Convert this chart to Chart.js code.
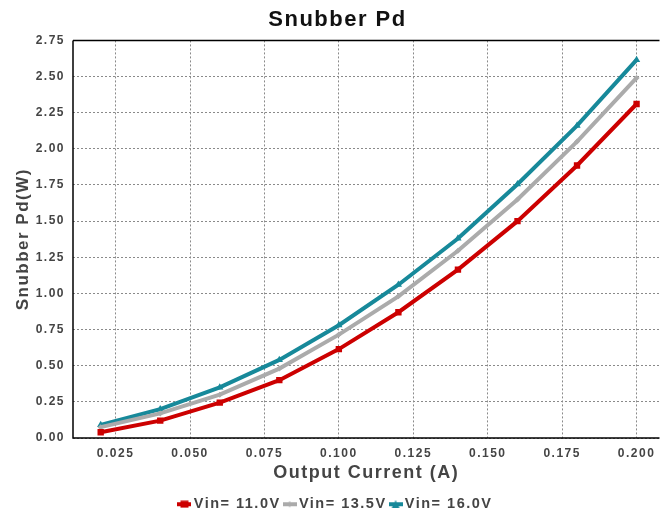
<!DOCTYPE html>
<html><head><meta charset="utf-8">
<script src="https://cdn.jsdelivr.net/npm/chart.js@4.4.0/dist/chart.umd.min.js"></script>
<style>html,body{margin:0;padding:0;background:#fff}#wrap{width:664px;height:513px}</style>
</head><body><div id="wrap"><canvas id="c" width="664" height="513"></canvas></div>
<script>
const current = [0.02,0.04,0.06,0.08,0.10,0.12,0.14,0.16,0.18,0.20];
const vin110 = [0.04,0.12,0.245,0.40,0.615,0.87,1.165,1.50,1.885,2.31];
const vin135 = [0.075,0.17,0.30,0.48,0.715,0.98,1.295,1.65,2.05,2.49];
const vin160 = [0.09,0.20,0.35,0.54,0.78,1.06,1.38,1.755,2.16,2.615];
const seriesNames = ['Vin= 11.0V','Vin= 13.5V','Vin= 16.0V'];
const colors = ['#CC0000','#ABABAB','#17899A'];
const markers = ['rect','rectRot','triangle'];
const FONT = 'Liberation Sans, Arial, sans-serif';

document.getElementById('c').getContext('2d').letterSpacing = '1.5px';

function legendIcon(color, style){
  const c = document.createElement('canvas'); c.width=14; c.height=8;
  const g = c.getContext('2d');
  g.strokeStyle=color; g.lineWidth=4; g.beginPath(); g.moveTo(0,4); g.lineTo(14,4); g.stroke();
  g.fillStyle=color;
  if(style==='rect'){ g.fillRect(3,0.5,8,7); }
  else if(style==='triangle'){ g.beginPath(); g.moveTo(7,0); g.lineTo(11,8); g.lineTo(3,8); g.closePath(); g.fill(); }
  else { g.beginPath(); g.moveTo(7,1); g.lineTo(10,4); g.lineTo(7,7); g.lineTo(4,4); g.closePath(); g.fill(); }
  return c;
}

const datasets = [vin110, vin135, vin160].map((arr,i)=>({
  label: seriesNames[i],
  data: current.map((x,j)=>({x:x,y:arr[j]})),
  borderColor: colors[i], backgroundColor: colors[i],
  borderWidth: 4, pointStyle: markers[i],
  pointRadius: [4.5,3,4.2][i], pointBorderWidth: 0, pointHoverRadius:4,
  tension: 0
}));

const spacing = {id:'spacing',
  beforeInit(ch){ ch.ctx.letterSpacing='1.5px'; },
  beforeLayout(ch){ ch.ctx.letterSpacing='1.5px'; },
  beforeDraw(ch){ ch.ctx.letterSpacing='1.5px'; }
};
const frame = {id:'frame', afterDraw(ch){
  const a=ch.chartArea, g=ch.ctx; g.save(); g.strokeStyle='#000'; g.lineWidth=1.5;
  g.beginPath(); g.moveTo(a.left,a.top); g.lineTo(a.right,a.top);
  g.moveTo(a.left,a.top); g.lineTo(a.left,a.bottom); g.lineTo(a.right,a.bottom); g.stroke(); g.restore();
}};

new Chart(document.getElementById('c'), {
  type:'line',
  data:{datasets},
  plugins:[spacing, frame],
  options:{
    responsive:false, animation:false,
    layout:{padding:{left:13,right:2,top:0,bottom:-8.5}},
    plugins:{
      title:{display:true,text:'Snubber Pd',color:'#111',font:{family:FONT,size:22,weight:'bold'},padding:{top:7,bottom:7}},
      legend:{position:'bottom',labels:{
        usePointStyle:true, pointStyleWidth:4, color:'#444', padding:7,
        font:{family:FONT,size:14.5,weight:'bold'},
        generateLabels(ch){ return ch.data.datasets.map((d,i)=>({text:d.label,fillStyle:d.borderColor,strokeStyle:d.borderColor,pointStyle:legendIcon(colors[i],markers[i]),datasetIndex:i,hidden:false,lineWidth:0,fontColor:'#444'})); }
      }},
      tooltip:{enabled:false}
    },
    scales:{
      x:{type:'linear',min:0.0107,max:0.2077,
        afterFit(s){s.height=52;},
        border:{display:false,dash:[2,2]},
        grid:{color:'#8a8a8a',lineWidth:1,drawTicks:false},
        ticks:{stepSize:0.025,includeBounds:false,padding:8,color:'#444',
          font:{family:FONT,size:12,weight:'bold'},
          callback:v=>v.toFixed(3)},
        title:{display:true,text:'Output Current (A)',color:'#444',padding:{top:2,bottom:6},
          font:{family:FONT,size:18,weight:'bold'}}
      },
      y:{min:0,max:2.75,
        afterFit(s){s.width=60;},
        border:{display:false,dash:[2,2]},
        grid:{color:'#8a8a8a',lineWidth:1,drawTicks:false},
        ticks:{stepSize:0.25,padding:8,color:'#444',
          font:{family:FONT,size:12,weight:'bold'},
          callback:v=>v.toFixed(2)},
        title:{display:true,text:'Snubber Pd(W)',color:'#444',padding:{top:0,bottom:0},
          font:{family:FONT,size:17,weight:'bold'}}
      }
    }
  }
});
</script></body></html>
